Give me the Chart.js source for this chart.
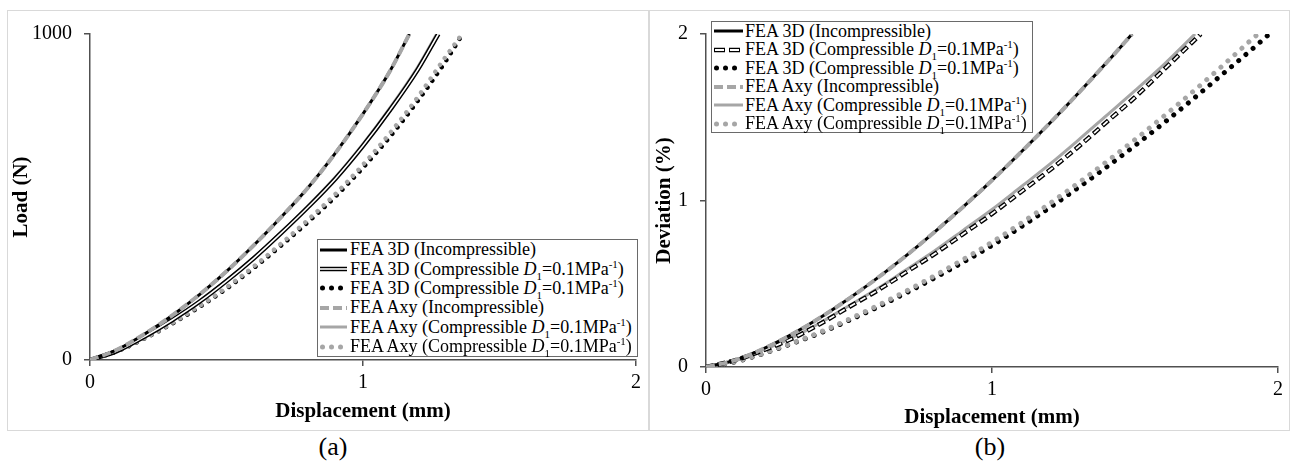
<!DOCTYPE html>
<html>
<head>
<meta charset="utf-8">
<script src="https://cdn.jsdelivr.net/npm/chart.js@4.4.0/dist/chart.umd.min.js"></script>
<style>
body { margin: 0; width: 1293px; height: 468px; background: #fff; position: relative; overflow: hidden;
  font-family: 'Liberation Serif', 'Times New Roman', serif; color: #000; }
.panel { position: absolute; border: 1px solid #d9d9d9; box-sizing: border-box; }
canvas { position: absolute; }
.legend { position: absolute; background: #fff; border: 1px solid #6a6a6a; box-sizing: border-box; font-size: 18px; }
.legend .row { display: flex; align-items: center; white-space: nowrap; }
.legend svg { flex: none; }
.legend sub, .legend sup { font-size: 11px; line-height: 0; }
.caption { position: absolute; top: 432px; font-size: 26px; line-height: 30px; text-align: center; }
</style>
</head>
<body>
<div class="panel" style="left:7px;top:10px;width:642px;height:421px"></div>
<div class="panel" style="left:649px;top:10px;width:641px;height:421px"></div>
<canvas id="chartA" width="642" height="421" style="left:7px;top:10px"></canvas>
<canvas id="chartB" width="640" height="421" style="left:650px;top:10px"></canvas>
<div id="legendA" class="legend" style="left:317px;top:239px;width:321px;height:118px"></div>
<div id="legendB" class="legend" style="left:711px;top:21px;width:322px;height:112px"></div>
<div class="caption" style="left:0;width:666px">(a)</div>
<div class="caption" style="left:650px;width:680px">(b)</div>
<script>
// (a) load vs displacement
const dispA_inc = [0, 0.1, 0.2, 0.3, 0.4, 0.5, 0.6, 0.7, 0.8, 0.9, 1.0, 1.1, 1.17]
const loadA_inc = [0, 32, 80, 136, 200, 272, 352, 438, 530, 636, 755, 888, 1000]
const dispA_comp3D = [0, 0.1, 0.2, 0.3, 0.4, 0.5, 0.6, 0.7, 0.8, 0.9, 1.0, 1.1, 1.2, 1.276]
const loadA_comp3D = [0, 28, 72, 122, 178, 242, 312, 389, 470, 557, 657, 768, 890, 1000]
const dispA_compAxy = [0, 0.1, 0.2, 0.3, 0.4, 0.5, 0.6, 0.7, 0.8, 0.9, 1.0, 1.1, 1.2, 1.27]
const loadA_compAxy = [0, 28, 73, 123, 180, 244, 314, 392, 474, 562, 663, 775, 898, 1000]
const dispA_dots3D = [0, 0.1, 0.2, 0.3, 0.4, 0.5, 0.6, 0.7, 0.8, 0.9, 1.0, 1.1, 1.2, 1.3, 1.365]
const loadA_dots3D = [0, 27, 66, 111, 162, 219, 282, 351, 424, 502, 590, 686, 794, 913, 1000]
const dispA_dotsAxy = [0, 0.1, 0.2, 0.3, 0.4, 0.5, 0.6, 0.7, 0.8, 0.9, 1.0, 1.1, 1.2, 1.3, 1.355]
const loadA_dotsAxy = [0, 28, 67, 113, 165, 223, 287, 357, 431, 510, 599, 697, 806, 927, 991]

// (b) deviation vs displacement
const dispB_inc = [0, 0.1, 0.2, 0.3, 0.4, 0.5, 0.6, 0.7, 0.8, 0.9, 1.0, 1.1, 1.2, 1.3, 1.4, 1.49]
const devB_inc = [0, 0.040, 0.109, 0.196, 0.297, 0.411, 0.535, 0.669, 0.812, 0.963, 1.121, 1.288, 1.461, 1.641, 1.827, 2.0]
const dispB_comp3D = [0, 0.1, 0.2, 0.3, 0.4, 0.5, 0.6, 0.7, 0.8, 0.9, 1.0, 1.1, 1.2, 1.3, 1.4, 1.5, 1.6, 1.7, 1.73]
const devB_comp3D = [0, 0.04, 0.10, 0.17, 0.26, 0.36, 0.46, 0.57, 0.68, 0.80, 0.92, 1.05, 1.18, 1.32, 1.47, 1.62, 1.785, 1.95, 2.0]
const dispB_compAxy = [0, 0.1, 0.2, 0.3, 0.4, 0.5, 0.6, 0.7, 0.8, 0.9, 1.0, 1.1, 1.2, 1.3, 1.4, 1.5, 1.6, 1.71]
const devB_compAxy = [0, 0.041, 0.103, 0.175, 0.266, 0.368, 0.471, 0.584, 0.698, 0.822, 0.946, 1.08, 1.215, 1.36, 1.51, 1.66, 1.815, 2.0]
const dispB_dots3D = [0, 0.1, 0.2, 0.3, 0.4, 0.5, 0.6, 0.7, 0.8, 0.9, 1.0, 1.1, 1.2, 1.3, 1.4, 1.5, 1.6, 1.7, 1.8, 1.9, 1.97]
const devB_dots3D = [0, 0.03, 0.08, 0.14, 0.205, 0.28, 0.36, 0.445, 0.535, 0.63, 0.73, 0.84, 0.955, 1.075, 1.2, 1.33, 1.465, 1.605, 1.75, 1.895, 2.0]
const dispB_dotsAxy = [0, 0.1, 0.2, 0.3, 0.4, 0.5, 0.6, 0.7, 0.8, 0.9, 1.0, 1.1, 1.2, 1.3, 1.4, 1.5, 1.6, 1.7, 1.8, 1.9, 1.93]
const devB_dotsAxy = [0, 0.031, 0.082, 0.143, 0.21, 0.287, 0.369, 0.456, 0.549, 0.647, 0.75, 0.862, 0.98, 1.103, 1.232, 1.366, 1.505, 1.65, 1.8, 1.955, 2.0]

const xTicks = [0, 1, 2]
const yTicksA = [0, 1000]
const yTicksB = [0, 1, 2]

const comp = 'Compressible <i>D</i><sub>1</sub>=0.1MPa<sup>-1</sup>'
const legendLabels = [
  'FEA 3D (Incompressible)',
  'FEA 3D (' + comp + ')',
  'FEA 3D (' + comp + ')',
  'FEA Axy (Incompressible)',
  'FEA Axy (' + comp + ')',
  'FEA Axy (' + comp + ')',
]

const GRAY = '#a6a6a6'
const AXIS = '#505050'
const FONT = "'Liberation Serif', 'Times New Roman', serif"

Chart.defaults.font.family = FONT
Chart.defaults.font.size = 20
Chart.defaults.color = '#000'

const pts = (xs, ys) => xs.map((x, i) => ({x: x, y: ys[i]}))

const line = (data, color, width, order, extra) => Object.assign({
  data: data,
  borderColor: color,
  borderWidth: width,
  pointRadius: 0,
  fill: false,
  cubicInterpolationMode: 'monotone',
  borderCapStyle: 'butt',
  order: order,
}, extra || {})

const dotted = (gap) => ({borderDash: [0.01, gap], borderCapStyle: 'round'})

const makeScales = (cfg) => ({
  x: {
    type: 'linear', min: 0, max: 2,
    afterBuildTicks: s => { s.ticks = xTicks.map(v => ({value: v})) },
    ticks: {padding: 5, maxRotation: 0, callback: v => String(v)},
    grid: {drawOnChartArea: false, tickLength: 6, color: AXIS, lineWidth: 1.5},
    border: {color: AXIS, width: 1.5},
    title: {display: true, text: 'Displacement (mm)', font: {size: 21, weight: 'bold'},
      padding: {top: 0, bottom: cfg.xTitlePad}},
    afterFit: s => { s.height = cfg.xHeight },
  },
  y: {
    type: 'linear', min: 0, max: cfg.yMax,
    afterBuildTicks: s => { s.ticks = cfg.yTicks.map(v => ({value: v})) },
    ticks: {padding: 12, callback: v => String(v)},
    grid: {drawOnChartArea: false, tickLength: 6, color: AXIS, lineWidth: 1.5},
    border: {color: AXIS, width: 1.5},
    title: {display: true, text: cfg.yTitle, font: {size: 21, weight: 'bold'},
      padding: {top: 2, bottom: 0}},
    afterFit: s => { s.width = cfg.yWidth },
  },
})

const baseOptions = (cfg) => ({
  responsive: false,
  animation: false,
  layout: {padding: {top: 12, right: cfg.padRight, left: 0, bottom: 0}},
  plugins: {legend: {display: false}, tooltip: {enabled: false}},
  scales: makeScales(cfg),
})

new Chart(document.getElementById('chartA'), {
  type: 'line',
  data: {
    datasets: [
      line(pts(dispA_inc, loadA_inc), GRAY, 4, 1, {borderDash: [9, 4]}),
      line(pts(dispA_inc, loadA_inc), '#000', 3, 2),
      line(pts(dispA_comp3D, loadA_comp3D), '#fff', 1.6, 3),
      line(pts(dispA_comp3D, loadA_comp3D), '#000', 4.5, 4),
      line(pts(dispA_compAxy, loadA_compAxy), GRAY, 3, 5),
      line(pts(dispA_dotsAxy, loadA_dotsAxy), GRAY, 4.5, 6, dotted(8.3)),
      line(pts(dispA_dots3D, loadA_dots3D), '#000', 4.5, 7, dotted(8.3)),
    ]
  },
  options: baseOptions({yMax: 1000, yTicks: yTicksA, yTitle: 'Load (N)', yWidth: 83,
    xHeight: 71, xTitlePad: 7, padRight: 13}),
})

new Chart(document.getElementById('chartB'), {
  type: 'line',
  data: {
    datasets: [
      line(pts(dispB_inc, devB_inc), GRAY, 4, 1, {borderDash: [9, 4]}),
      line(pts(dispB_inc, devB_inc), '#000', 3, 2),
      line(pts(dispB_comp3D, devB_comp3D), '#fff', 1.8, 3, {borderDash: [6, 6], borderDashOffset: -1}),
      line(pts(dispB_comp3D, devB_comp3D), '#000', 4.5, 4, {borderDash: [8, 4]}),
      line(pts(dispB_compAxy, devB_compAxy), GRAY, 3, 5),
      line(pts(dispB_dotsAxy, devB_dotsAxy), GRAY, 5, 6, dotted(9.4)),
      line(pts(dispB_dots3D, devB_dots3D), '#000', 5, 7, dotted(9.4)),
    ]
  },
  options: baseOptions({yMax: 2, yTicks: yTicksB, yTitle: 'Deviation (%)', yWidth: 56,
    xHeight: 64, xTitlePad: 1, padRight: 12}),
})

// legend samples, drawn as small svg strokes
const svgLine = (w, color, sw, dash, cap, offset) =>
  `<line x1="${cap === 'round' ? 2.5 : 0}" y1="6" x2="${w}" y2="6" stroke="${color}" stroke-width="${sw}"` +
  ` stroke-dasharray="${dash || 'none'}" stroke-dashoffset="${offset || 0}" stroke-linecap="${cap || 'butt'}"/>`

const sample = (kind, w) => {
  let s = ''
  if (kind === 'solidBlack') s = svgLine(w, '#000', 3)
  if (kind === 'double') s = svgLine(w, '#000', 4.5) + svgLine(w, '#fff', 1.6)
  if (kind === 'dashOutline') s = svgLine(w, '#000', 4.5, '11 4') + svgLine(w, '#fff', 1.8, '9 6', null, -1)
  if (kind === 'dotsBlack') s = svgLine(w, '#000', 5, '0.01 9', 'round')
  if (kind === 'dashGray') s = svgLine(w, GRAY, 4, '9 4')
  if (kind === 'solidGray') s = svgLine(w, GRAY, 3)
  if (kind === 'dotsGray') s = svgLine(w, GRAY, 5, '0.01 9', 'round')
  return `<svg width="${w}" height="12">${s}</svg>`
}

const buildLegend = (id, kinds, w, rowH, gapL, gapT) => {
  let box = document.getElementById(id)
  kinds.forEach((k, i) => {
    let row = document.createElement('div')
    row.className = 'row'
    row.style.height = rowH + 'px'
    row.innerHTML = `<span style="width:${gapL}px"></span>` + sample(k, w) +
      `<span style="margin-left:${gapT}px">${legendLabels[i]}</span>`
    box.appendChild(row)
  })
}

buildLegend('legendA', ['solidBlack', 'double', 'dotsBlack', 'dashGray', 'solidGray', 'dotsGray'], 27, 19.4, 2, 3)
buildLegend('legendB', ['solidBlack', 'dashOutline', 'dotsBlack', 'dashGray', 'solidGray', 'dotsGray'], 29, 18.5, 2, 2)
</script>
</body>
</html>
